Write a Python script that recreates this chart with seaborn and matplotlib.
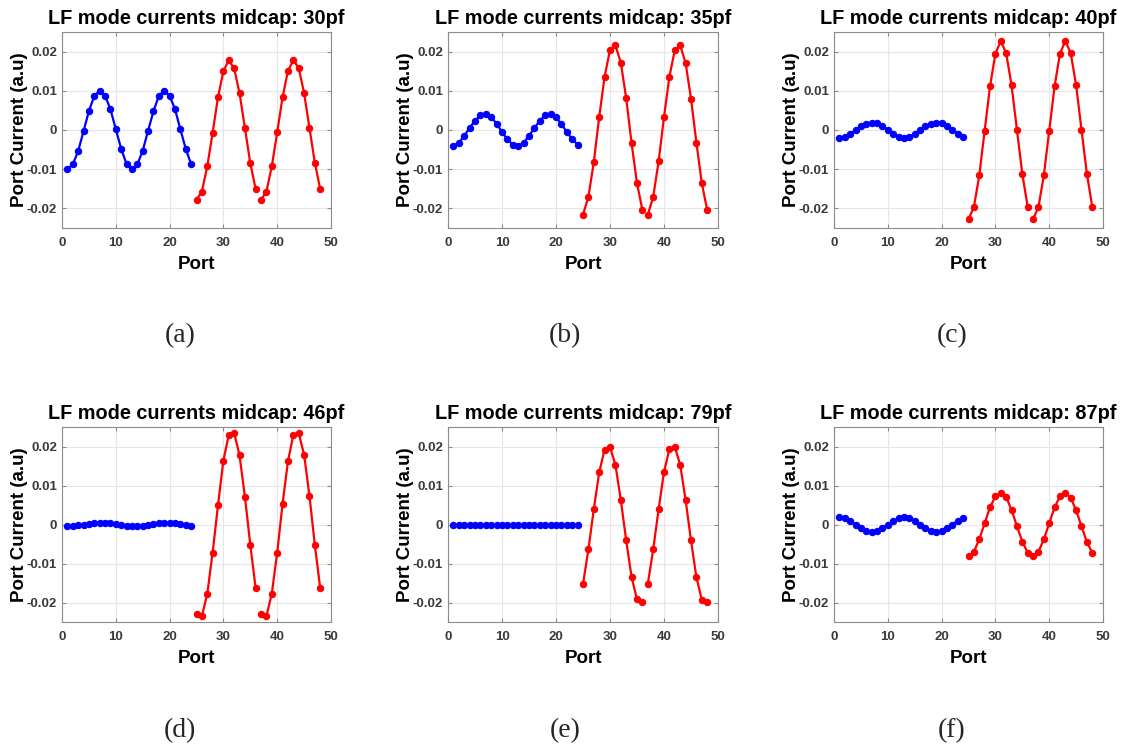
import numpy as np
import pandas as pd
import matplotlib
matplotlib.use("Agg")
import matplotlib.pyplot as plt
import seaborn as sns

sns.set_style("white")
plt.rcParams['font.family'] = ['Liberation Sans', 'DejaVu Sans']

ports_blue = list(range(1, 25))
ports_red = list(range(25, 49))

titles = ["LF mode currents midcap: 30pf", "LF mode currents midcap: 35pf",
          "LF mode currents midcap: 40pf", "LF mode currents midcap: 46pf",
          "LF mode currents midcap: 79pf", "LF mode currents midcap: 87pf"]
captions = ["(a)", "(b)", "(c)", "(d)", "(e)", "(f)"]

blue_a = [-0.0100, -0.0088, -0.0054, -0.0003, 0.0048, 0.0087, 0.0100, 0.0088, 0.0053, 0.0002, -0.0048, -0.0087,
          -0.0100, -0.0088, -0.0053, -0.0002, 0.0048, 0.0087, 0.0100, 0.0088, 0.0053, 0.0002, -0.0048, -0.0087]
red_a = [-0.0178, -0.0157, -0.0093, -0.0007, 0.0084, 0.0150, 0.0178, 0.0157, 0.0094, 0.0005, -0.0085, -0.0151,
         -0.0178, -0.0157, -0.0092, -0.0006, 0.0084, 0.0151, 0.0178, 0.0158, 0.0094, 0.0005, -0.0084, -0.0151]

blue_b = [-0.0040, -0.0033, -0.0015, 0.0005, 0.0024, 0.0037, 0.0040, 0.0033, 0.0016, -0.0005, -0.0024, -0.0037,
          -0.0040, -0.0033, -0.0015, 0.0005, 0.0024, 0.0037, 0.0040, 0.0033, 0.0015, -0.0005, -0.0024, -0.0037]
red_b = [-0.0216, -0.0171, -0.0082, 0.0033, 0.0136, 0.0204, 0.0216, 0.0172, 0.0081, -0.0034, -0.0136, -0.0204,
         -0.0216, -0.0171, -0.0080, 0.0033, 0.0136, 0.0204, 0.0216, 0.0171, 0.0080, -0.0032, -0.0136, -0.0204]

blue_c = [-0.0020, -0.0017, -0.0010, -0.0001, 0.0009, 0.0016, 0.0019, 0.0017, 0.0010, 0.0000, -0.0009, -0.0017,
          -0.0020, -0.0017, -0.0010, 0.0000, 0.0009, 0.0016, 0.0019, 0.0017, 0.0010, 0.0000, -0.0009, -0.0017]
red_c = [-0.0227, -0.0197, -0.0116, -0.0002, 0.0111, 0.0195, 0.0227, 0.0196, 0.0114, 0.0001, -0.0112, -0.0196,
         -0.0227, -0.0197, -0.0116, -0.0002, 0.0111, 0.0195, 0.0227, 0.0196, 0.0115, 0.0001, -0.0111, -0.0196]

blue_d = [-0.0003, -0.0003, -0.0002, -0.0001, 0.0001, 0.0003, 0.0004, 0.0004, 0.0003, 0.0001, -0.0001, -0.0003,
          -0.0004, -0.0004, -0.0003, -0.0001, 0.0001, 0.0003, 0.0004, 0.0004, 0.0003, 0.0001, -0.0001, -0.0003]
red_d = [-0.0230, -0.0235, -0.0178, -0.0072, 0.0050, 0.0164, 0.0230, 0.0235, 0.0177, 0.0071, -0.0052, -0.0164,
         -0.0230, -0.0235, -0.0177, -0.0072, 0.0053, 0.0162, 0.0230, 0.0234, 0.0179, 0.0073, -0.0053, -0.0164]

blue_e = [0.0000] * 24
red_e = [-0.0153, -0.0064, 0.0039, 0.0134, 0.0192, 0.0199, 0.0153, 0.0063, -0.0041, -0.0135, -0.0192, -0.0199,
         -0.0153, -0.0064, 0.0039, 0.0135, 0.0193, 0.0199, 0.0153, 0.0063, -0.0041, -0.0135, -0.0193, -0.0199]

blue_f = [0.0019, 0.0017, 0.0010, 0.0000, -0.0009, -0.0017, -0.0020, -0.0017, -0.0010, 0.0000, 0.0009, 0.0016,
          0.0019, 0.0017, 0.0010, 0.0000, -0.0009, -0.0017, -0.0020, -0.0017, -0.0010, 0.0000, 0.0009, 0.0016]
red_f = [-0.0082, -0.0070, -0.0038, 0.0003, 0.0044, 0.0072, 0.0081, 0.0071, 0.0037, -0.0004, -0.0044, -0.0072,
         -0.0082, -0.0070, -0.0038, 0.0003, 0.0044, 0.0072, 0.0081, 0.0069, 0.0036, -0.0004, -0.0045, -0.0072]

blues = [blue_a, blue_b, blue_c, blue_d, blue_e, blue_f]
reds = [red_a, red_b, red_c, red_d, red_e, red_f]

yticks = [-0.02, -0.01, 0, 0.01, 0.02]
ytick_labels = ["-0.02", "-0.01", "0", "0.01", "0.02"]
xticks = [0, 10, 20, 30, 40, 50]

W, H = 1125, 748
fig = plt.figure(figsize=(W / 100, H / 100), dpi=100)

# axes boxes in pixels: (left, top, right, bottom)
boxes = [(62, 32, 331, 228), (448, 32, 718, 228), (834, 32, 1103, 228),
         (62, 427, 331, 622), (448, 427, 718, 622), (834, 427, 1103, 622)]
caption_pos = [(180, 336), (565, 336), (952, 336), (180, 731), (565, 731), (952, 731)]

tick_col = "#3a3a3a"
ms = 4.6
lw = 1.6
for i in range(6):
    l, t, r, b = boxes[i]
    ax = fig.add_axes([l / W, 1 - b / H, (r - l) / W, (b - t) / H])
    sns.lineplot(x=ports_blue, y=blues[i], ax=ax, color="#0000ff", marker="o", markersize=ms,
                 markeredgecolor="#0000ff", linewidth=lw, sort=False)
    sns.lineplot(x=ports_red[:12], y=reds[i][:12], ax=ax, color="#ff0000", marker="o", markersize=ms,
                 markeredgecolor="#ff0000", linewidth=lw, sort=False)
    sns.lineplot(x=ports_red[12:], y=reds[i][12:], ax=ax, color="#ff0000", marker="o", markersize=ms,
                 markeredgecolor="#ff0000", linewidth=lw, sort=False)
    ax.set_xlim(0, 50)
    ax.set_ylim(-0.025, 0.025)
    ax.set_xticks(xticks)
    ax.set_xticklabels([str(v) for v in xticks], fontweight="bold", fontsize=9.5, color=tick_col)
    ax.set_yticks(yticks)
    ax.set_yticklabels(ytick_labels, fontweight="bold", fontsize=9.5, color=tick_col)
    ax.grid(True, color="#e6e6e6", linewidth=0.8)
    ax.set_axisbelow(True)
    for sp in ax.spines.values():
        sp.set_visible(True)
        sp.set_color("#8c8c8c")
        sp.set_linewidth(0.8)
    ax.tick_params(direction="in", length=3, width=0.8, color="#8c8c8c", top=True, right=True,
                   bottom=True, left=True, labeltop=False, labelright=False)
    ax.tick_params(axis="x", pad=6.5)
    ax.tick_params(axis="y", pad=3.5)
    ax.set_title(titles[i], fontweight="bold", fontsize=14.3, color="black", pad=6)
    ax.set_xlabel("Port", fontweight="bold", fontsize=13.5, color="black", labelpad=5)
    ax.set_ylabel("Port Current (a.u)", fontweight="bold", fontsize=13.5, color="black", labelpad=-1)
    cx, cy = caption_pos[i]
    fig.text(cx / W, 1 - cy / H, captions[i], ha="center", va="center", fontsize=20,
             family=["Liberation Serif", "DejaVu Serif"])

fig.savefig("out.png", dpi=100, facecolor="white")
